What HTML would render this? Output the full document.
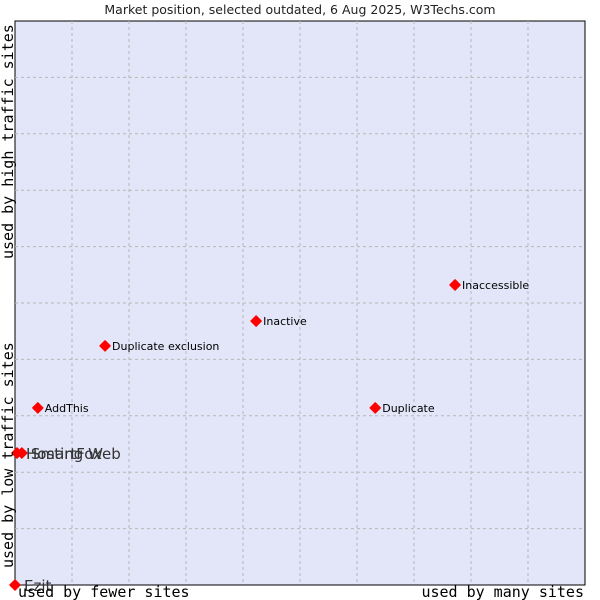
<!DOCTYPE html>
<html><head><meta charset="utf-8"><style>
body{margin:0;background:#fff;}
svg{display:block;font-family:"DejaVu Sans","Liberation Sans",sans-serif;}
</style></head><body>
<svg id="chart" width="600" height="600">
<text x="300" y="14" text-anchor="middle" font-size="12.5" fill="#222">Market position, selected outdated, 6 Aug 2025, W3Techs.com</text>
<rect x="15" y="21" width="570" height="564" fill="#e3e5f8" stroke="#000" stroke-width="1"/>
<g id="grid"></g>
<g id="marks"></g>
<text x="18" y="597" font-family="DejaVu Sans Mono,Liberation Mono,monospace" font-size="15" fill="#000">used by fewer sites</text>
<text x="584" y="597" text-anchor="end" font-family="DejaVu Sans Mono,Liberation Mono,monospace" font-size="15" fill="#000">used by many sites</text>
<text transform="translate(13,568) rotate(-90)" font-family="DejaVu Sans Mono,Liberation Mono,monospace" font-size="15" fill="#000">used by low traffic sites</text>
<text transform="translate(13,259) rotate(-90)" font-family="DejaVu Sans Mono,Liberation Mono,monospace" font-size="15" fill="#000">used by high traffic sites</text>
</svg>
<script>
const names=["Ezit","Hosting Web","SmartFox","AddThis","Duplicate exclusion","Inactive","Inaccessible","Duplicate"];
const xVals=[0,0.35,1.2,4.0,15.8,42.3,77.2,63.2];
const yVals=[0,23.4,23.4,31.4,42.4,46.8,53.2,31.4];
const bigLabel=[true,true,true,false,false,false,false,false];
const X0=15,X1=585,Y0=585,Y1=21;
const sx=v=>X0+v/100*(X1-X0), sy=v=>Y0-v/100*(Y0-Y1);
const NS="http://www.w3.org/2000/svg";
const grid=document.getElementById('grid');
for(let i=1;i<10;i++){
 const v=document.createElementNS(NS,'line');
 
 
 v.setAttribute('x1',sx(i*10));v.setAttribute('x2',sx(i*10));v.setAttribute('y1',Y1);v.setAttribute('y2',Y0);
 v.setAttribute('stroke','#b8b8b8');v.setAttribute('stroke-dasharray','3,3');grid.appendChild(v);
 const h=document.createElementNS(NS,'line');
 
 
 h.setAttribute('x1',X0);h.setAttribute('x2',X1);h.setAttribute('y1',sy(i*10));h.setAttribute('y2',sy(i*10));
 h.setAttribute('stroke','#b8b8b8');h.setAttribute('stroke-dasharray','3,3');grid.appendChild(h);
}
const marks=document.getElementById('marks');
names.forEach((n,i)=>{
 const x=sx(xVals[i]),y=sy(yVals[i]);
 const p=document.createElementNS(NS,'polygon');
 
 
 p.setAttribute('points',`${x},${y-5} ${x+5},${y} ${x},${y+5} ${x-5},${y}`);
 p.setAttribute('fill','#ff0000');p.setAttribute('stroke','#ff0000');p.setAttribute('stroke-linejoin','round');p.setAttribute('stroke-width','1.5');
 marks.appendChild(p);
 const t=document.createElementNS(NS,'text');
 
 
 t.setAttribute('x',x+(bigLabel[i]?9:7));t.setAttribute('y',y+(bigLabel[i]?6:4));
 t.setAttribute('font-size',bigLabel[i]?'15':'11');t.setAttribute('fill',bigLabel[i]?'#333':'#000');
 t.textContent=n;marks.appendChild(t);
});
</script>
</body></html>
